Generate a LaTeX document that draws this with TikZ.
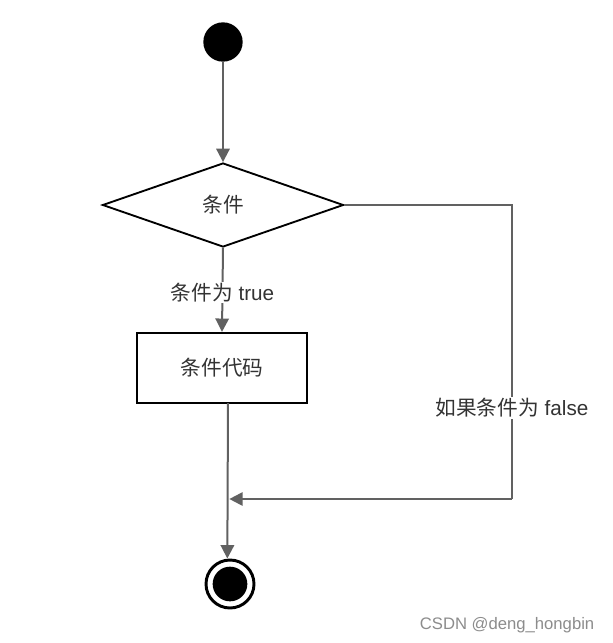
\documentclass[tikz,border=0pt]{standalone}
\usepackage{fontspec}
\setmainfont{Liberation Sans}
\newfontfamily\cjk{Noto Sans CJK SC}
\usetikzlibrary{shapes.geometric,arrows.meta}
\begin{document}
\begin{tikzpicture}[x=0.75pt,y=-0.75pt,
  conn/.style={draw=black!62,line width=1.5pt},
  arr/.style={-{Triangle[length=10pt,width=10pt]}},
  txt/.style={font=\fontsize{15.5}{18}\selectfont, text=black!80},
  lbl/.style={txt,fill=white,inner sep=1pt}]
\useasboundingbox (0,0) rectangle (613,643);
\node (start) [circle,fill=black,minimum size=29.5pt,inner sep=0pt] at (223,42) {};
\node (cond) [diamond,draw=black,line width=1.4pt,minimum width=180.75pt,minimum height=63pt,inner sep=0pt,aspect=2.87,txt] at (223,205) {\cjk 条件};
\node (code) [rectangle,draw=black,line width=1.7pt,minimum width=127.5pt,minimum height=52.5pt,txt] at (222,368) {\cjk 条件代码};
\node (end) [circle,draw=black,line width=2.2pt,minimum size=36pt,inner sep=0pt] at (230,584) {};
\node (endin) [circle,fill=black,minimum size=26pt,inner sep=0pt] at (230,584) {};
\coordinate (rtop) at (512,205);
\coordinate (rbot) at (512,499);
\coordinate (join) at (228,499);
\coordinate (codeout) at (228,403);
\draw[conn,arr] (start.south) -- (cond.north);
\draw[conn,arr] (cond.south) -- node[lbl,pos=0.53] {{\cjk 条件为} true} (code.north);
\draw[conn] (cond.east) -- (rtop) -- node[lbl,pos=0.69] {{\cjk 如果条件为} false} (rbot);
\draw[conn,arr] (rbot) -- ([xshift=1pt]join);
\draw[conn,arr] (codeout) -- ([xshift=-2pt]end.north);
\node (wm) [font=\fontsize{12.5}{15}\selectfont, text=black!45, anchor=east] at (599,625) {CSDN @deng\_hongbin};
\end{tikzpicture}
\end{document}
